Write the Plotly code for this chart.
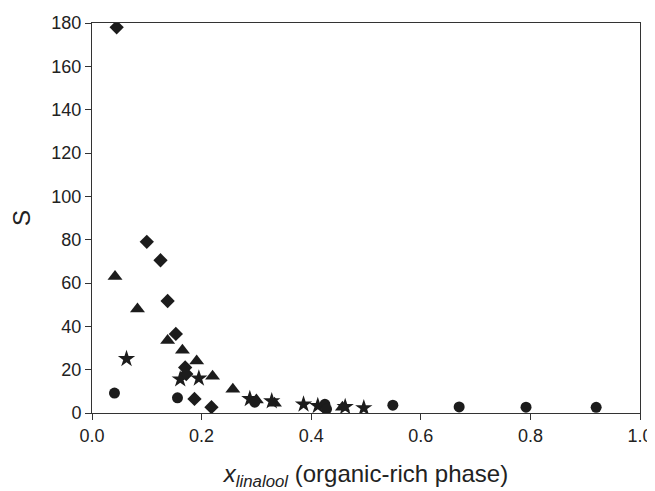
import plotly.graph_objects as go

# values
diamond_x = [0.045, 0.100, 0.125, 0.138, 0.153, 0.170, 0.172, 0.187, 0.218]
diamond_y = [178.0, 79.0, 70.5, 51.7, 36.5, 21.0, 18.0, 6.5, 2.7]

triangle_x = [0.042, 0.083, 0.138, 0.165, 0.191, 0.220, 0.257, 0.300, 0.333, 0.457]
triangle_y = [63.0, 48.0, 33.5, 29.0, 24.0, 17.0, 11.0, 6.0, 4.5, 2.7]

star_x = [0.063, 0.161, 0.195, 0.288, 0.328, 0.386, 0.412, 0.462, 0.496]
star_y = [25.0, 15.6, 16.0, 6.5, 5.5, 4.0, 3.3, 2.8, 2.3]

circle_x = [0.041, 0.156, 0.297, 0.425, 0.428, 0.549, 0.670, 0.792, 0.920]
circle_y = [9.2, 7.0, 5.0, 4.0, 1.8, 3.6, 2.8, 2.7, 2.6]

x_ticks = [0.0, 0.2, 0.4, 0.6, 0.8, 1.0]
y_ticks = [0, 20, 40, 60, 80, 100, 120, 140, 160, 180]

ink = "#1c1c1c"

fig = go.Figure()
fig.add_trace(go.Scatter(x=diamond_x, y=diamond_y, mode="markers",
                         marker=dict(symbol="diamond", size=11, color=ink)))
fig.add_trace(go.Scatter(x=triangle_x, y=triangle_y, mode="markers",
                         marker=dict(symbol="triangle-up", size=13, color=ink)))
fig.add_trace(go.Scatter(x=star_x, y=star_y, mode="markers",
                         marker=dict(symbol="star", size=13, color=ink)))
fig.add_trace(go.Scatter(x=circle_x, y=circle_y, mode="markers",
                         marker=dict(symbol="circle", size=11, color=ink)))

font = "Liberation Sans, Arial, sans-serif"

fig.update_xaxes(
    range=[0, 1.0], tickvals=x_ticks, ticktext=[f"{v:.1f}" for v in x_ticks],
    showgrid=False, zeroline=False, showline=True, mirror=True, automargin=False,
    linecolor="#333", linewidth=1, ticks="outside", ticklen=6, tickcolor="#333",
    tickfont=dict(size=18, color="#222", family=font),
    title=dict(text="<i>x<sub>linalool</sub></i> (organic-rich phase)",
               font=dict(size=24, color="#222", family=font), standoff=24),
)
fig.update_yaxes(
    range=[0, 180], tickvals=y_ticks,
    showgrid=False, zeroline=False, showline=True, mirror=True, automargin=False,
    linecolor="#333", linewidth=1, ticks="outside", ticklen=6, tickcolor="#333",
    tickfont=dict(size=18, color="#222", family=font),
    title=dict(text="S", font=dict(size=24, color="#222", family=font), standoff=25),
)

# the page body adds an 8px margin, so the figure is sized to fit the window
fig.update_layout(
    width=647, height=483,
    margin=dict(l=84, r=15, t=15, b=78),
    plot_bgcolor="white", paper_bgcolor="white",
    showlegend=False,
    font=dict(family=font),
)

fig.write_html("out.html")
